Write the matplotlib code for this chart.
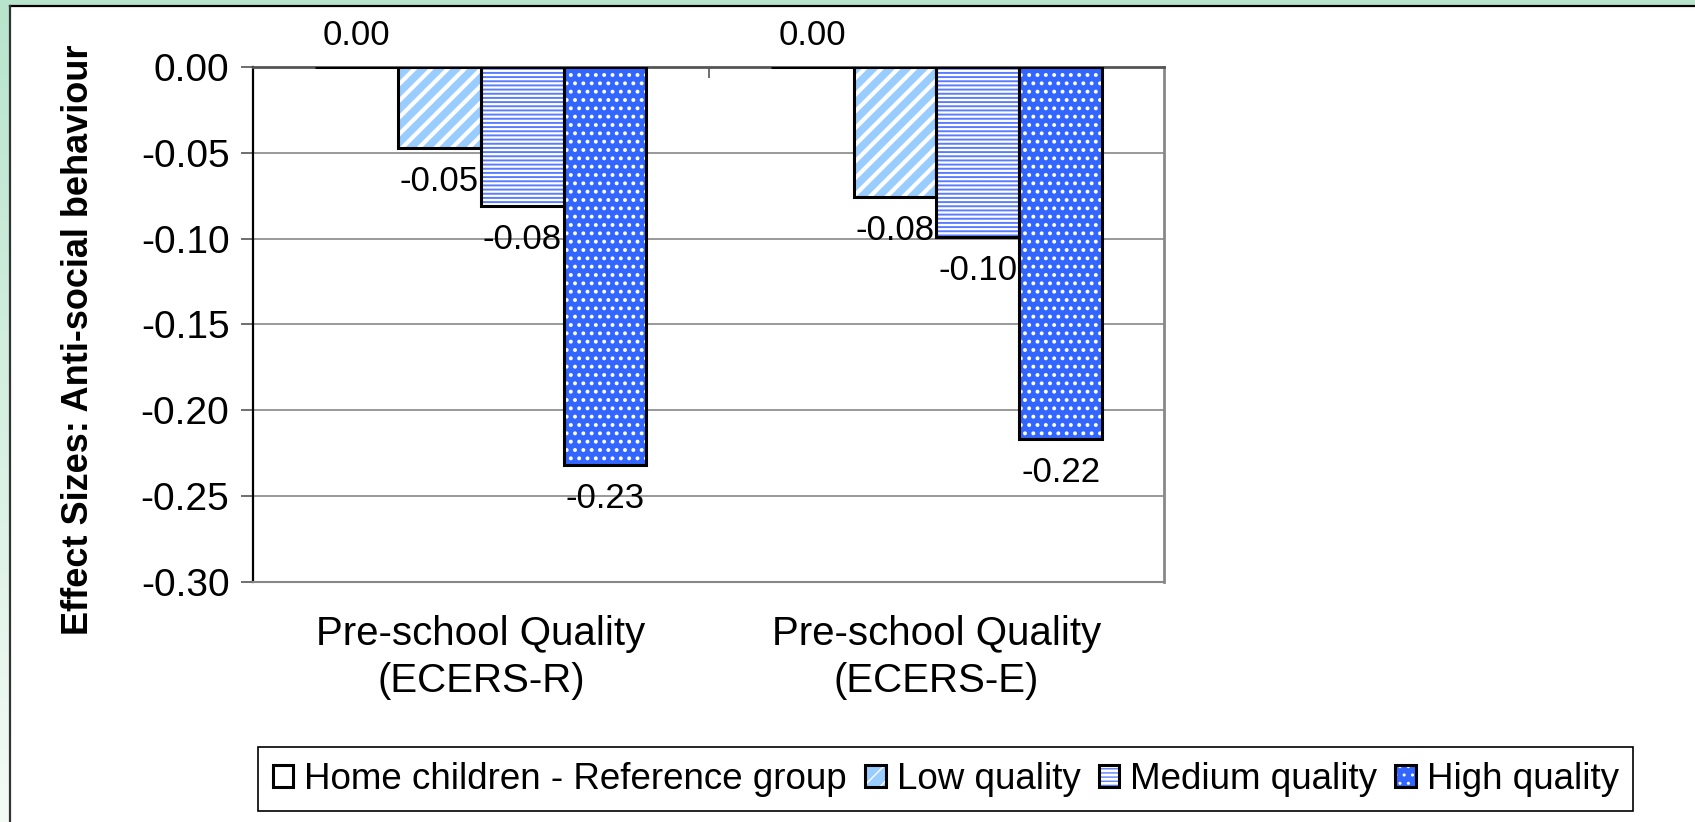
import numpy as np
import matplotlib
matplotlib.use("Agg")
import matplotlib.pyplot as plt
from matplotlib.patches import Rectangle

plt.rcParams['font.family'] = ['Liberation Sans', 'DejaVu Sans']

# effect sizes, anti-social behaviour, by pre-school quality measure
categories = ["Pre-school Quality\n(ECERS-R)", "Pre-school Quality\n(ECERS-E)"]
series = ["Home children - Reference group", "Low quality", "Medium quality", "High quality"]
home = [0.0, 0.0]
low = [-0.047, -0.076]
medium = [-0.081, -0.099]
high = [-0.232, -0.217]
yticks = [0.00, -0.05, -0.10, -0.15, -0.20, -0.25, -0.30]

values = [home, low, medium, high]
faces = ["white", "#99ccff", "white", "#3366ff"]
hatch_cols = ["white", "white", "#5a7dff", "white"]
hatches = [None, "//", "----", ".."]
hatch_lws = [1.0, 3.0, 1.4, 1.6]

fig = plt.figure(figsize=(16.95, 8.22), dpi=100)
ax = fig.add_axes([0.1493, 0.292, 0.5375, 0.6265])

# green frame strip at the top and down the left edge
fig.patches.append(Rectangle((0, 1 - 6 / 822), 1, 6 / 822, transform=fig.transFigure,
                             facecolor="#b8e4cc", edgecolor="none", zorder=0))
lax = fig.add_axes([0, 0, 9 / 1695, 1 - 6 / 822])
grad = np.linspace(0, 1, 256).reshape(-1, 1)
lax.imshow(grad, aspect="auto", cmap=matplotlib.colors.LinearSegmentedColormap.from_list(
    "strip", ["#b8e4cc", "#f4fbf7"]), extent=[0, 1, 0, 1])
lax.axis("off")
fig.lines.append(plt.Line2D([9.5 / 1695, 1], [1 - 6.5 / 822, 1 - 6.5 / 822],
                            transform=fig.transFigure, color="black", lw=1.6))
fig.lines.append(plt.Line2D([9.5 / 1695, 9.5 / 1695], [0, 1 - 6.5 / 822],
                            transform=fig.transFigure, color="#333333", lw=1.6))

x = np.arange(len(categories))
w = 1 / 5.5
handles = []
for i, vals in enumerate(values):
    pos = x + (i - 1.5) * w
    with plt.rc_context({'hatch.linewidth': hatch_lws[i]}):
        tex = ax.bar(pos, vals, w, color=faces[i], edgecolor=hatch_cols[i],
                     hatch=hatches[i], linewidth=0, zorder=3)
    edge = ax.bar(pos, vals, w, fill=False, edgecolor="black", linewidth=2.2, zorder=4)
    handles.append((tex[0], edge[0]))
    for px, v in zip(pos, vals):
        off = 23 if v >= 0 else -24
        ax.annotate(f"{v:.2f}", (px, v), xytext=(0, off), textcoords="offset points",
                    ha="center", va="center", fontsize=25, annotation_clip=False)

ax.set_xlim(-0.5, 1.5)
ax.set_ylim(-0.30, 0.0)
ax.set_yticks(yticks)
ax.set_yticklabels([f"{t:.2f}" for t in yticks], fontsize=28)
ax.yaxis.grid(True, color="#888888", lw=1.2, zorder=0)
ax.set_axisbelow(True)
ax.tick_params(axis="y", length=9, width=1.2, pad=8, color="#555555")

ax.set_xticks(x)
ax.set_xticklabels(categories, fontsize=29, linespacing=1.3)
ax.tick_params(axis="x", which="major", length=0, pad=24)
ax.set_xticks([0.5], minor=True)
ax.tick_params(axis="x", which="minor", bottom=False, top=True, direction="in",
               length=8, width=1.2, color="#555555")

ax.spines["left"].set_color("black")
ax.spines["left"].set_linewidth(1.6)
ax.spines["top"].set_color("#555555")
ax.spines["top"].set_linewidth(2.0)
ax.spines["right"].set_color("#888888")
ax.spines["right"].set_linewidth(2.0)
ax.spines["bottom"].set_color("#888888")
ax.spines["bottom"].set_linewidth(1.5)

ax.set_ylabel("Effect Sizes: Anti-social behaviour", fontsize=26, fontweight="bold")
ax.yaxis.set_label_coords(-0.172, 0.47)

leg = fig.legend(handles, series, loc="center", bbox_to_anchor=(0.558, 0.052),
                 ncol=4, fontsize=26.5, frameon=True, fancybox=False, edgecolor="black",
                 framealpha=1, handlelength=0.55, handleheight=0.55, handletextpad=0.3,
                 columnspacing=0.5, borderpad=0.4, borderaxespad=0)
leg.get_frame().set_linewidth(1.2)

fig.savefig("out.png", dpi=100)
